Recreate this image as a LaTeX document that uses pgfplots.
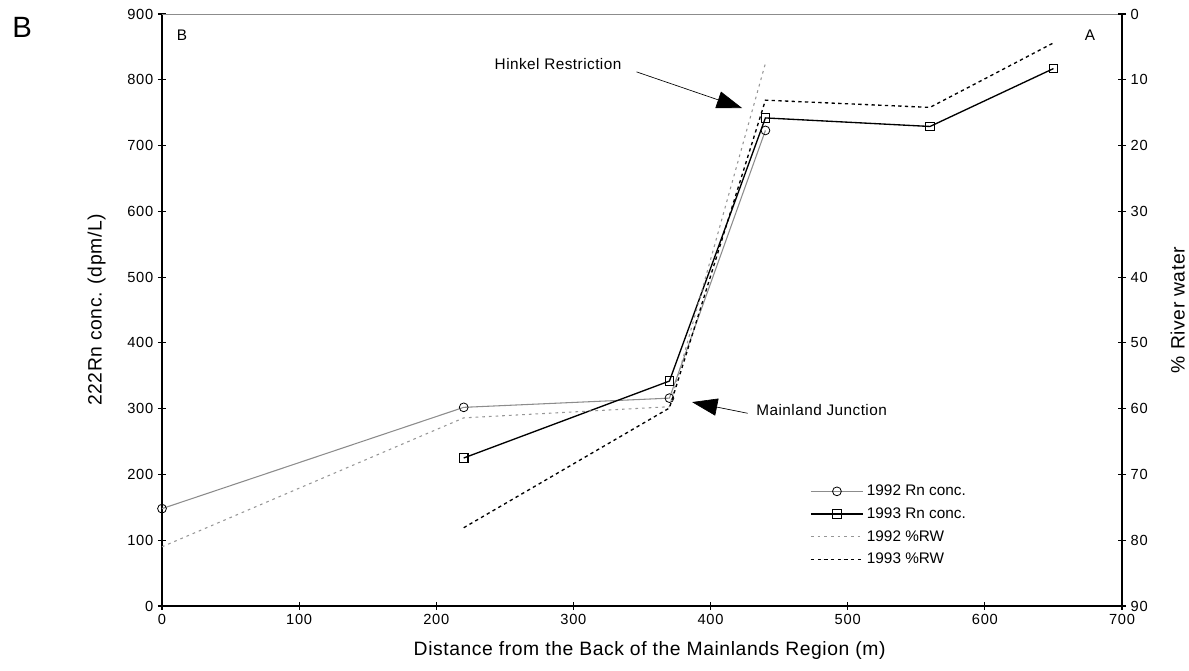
\documentclass[border=0pt]{standalone}
\usepackage{fontspec}
\setmainfont{Liberation Sans}
\usepackage{pgfplots}
\pgfplotsset{compat=1.18}
\usetikzlibrary{arrows.meta}

\definecolor{lightline}{RGB}{140,140,140}
\definecolor{lightdash}{RGB}{150,150,150}

\newcommand{\tickfont}{\fontsize{11pt}{13pt}\selectfont\addfontfeatures{LetterSpace=5}}
\newcommand{\labelfont}{\fontsize{14.5pt}{17pt}\selectfont\addfontfeatures{LetterSpace=3}}
\newcommand{\legendfont}{\fontsize{11.5pt}{13pt}\selectfont}
\newcommand{\annfont}{\fontsize{11.5pt}{13pt}\selectfont\addfontfeatures{LetterSpace=3}}

\pgfplotsset{
  common/.style={
    scale only axis, width=720pt, height=444pt,
    xmin=0, xmax=700,
    axis line style={black, line width=0.8pt, -},
    tick align=center, major tick length=6pt,
    tick style={black, line width=0.8pt},
    /pgf/number format/assume math mode=true,
    tick label style={font=\tickfont},
    label style={font=\labelfont},
    clip=false,
  }
}

\begin{document}
\begin{tikzpicture}
\path[use as bounding box] (-121.5pt,-48.75pt) rectangle (770.25pt,454.5pt);

% Radon concentration (left axis)
\begin{axis}[
  common,
  ymin=0, ymax=900,
  xtick={0,100,...,700}, ytick={0,100,...,900},
  axis x line*=bottom, axis y line*=left,
  xtick pos=left, ytick pos=left,
  xlabel={Distance from the Back of the Mainlands Region (m)},
  ylabel={222Rn conc. (dpm/L)},
  xlabel style={at={(axis description cs:0.508,-0.076)}, anchor=center},
  ylabel style={at={(axis description cs:-0.068,0.5)}, anchor=center},
]
\draw[lightline, line width=0.6pt] (rel axis cs:0,1) -- (rel axis cs:1,1);

\addplot[lightline, line width=0.8pt, mark=o, mark size=3.3pt,
  mark options={black, fill=white, line width=0.6pt}]
  coordinates {(0,148) (220,302) (370,316) (440,723)};

\addplot[black, line width=1pt, mark=square, mark size=3.2pt,
  mark options={black, fill=white, line width=0.8pt}]
  coordinates {(220,225) (370,342) (440,742) (560,729) (650,817)};

\node[font=\fontsize{22pt}{26pt}\selectfont] at (axis cs:-102,880) {B};
\node[font=\annfont] at (axis cs:14.6,868) {B};
\node[font=\annfont] at (axis cs:676.7,868) {A};

\node[font=\annfont] at (axis cs:288.8,824) {Hinkel Restriction};
\draw[line width=0.5pt, -{Triangle[length=19pt,width=13pt]}]
  (axis cs:346,812) -- (axis cs:423,757);

\node[font=\annfont] at (axis cs:481,298) {Mainland Junction};
\draw[line width=0.5pt, -{Triangle[length=19pt,width=13pt]}]
  (axis cs:427,293) -- (axis cs:386.5,310);
\end{axis}

% Percentage of river water (right axis, reversed)
\begin{axis}[
  common,
  ymin=0, ymax=90, y dir=reverse,
  ytick={0,10,...,90},
  axis x line=none, axis y line*=right,
  ytick pos=right, yticklabel pos=right,
  ylabel={\% River water},
  ylabel style={at={(axis description cs:1.058,0.5)}, anchor=center},
  legend style={draw=none, fill=none, at={(0.675,0.206)}, anchor=north west,
    font=\legendfont, inner sep=0pt, row sep=6.5pt,
    nodes={inner sep=0.5pt},
    /tikz/every odd column/.append style={column sep=2pt}},
  legend cell align=left,
  legend image code/.code={
    \draw[mark repeat=2, mark phase=2, #1]
      plot coordinates {(0pt,0pt) (19.5pt,0pt) (39pt,0pt)};
  },
]
\addlegendimage{lightline, line width=0.8pt, mark=o, mark size=3.3pt,
  mark options={black, fill=white, line width=0.6pt}}
\addlegendentry{1992 Rn conc.}
\addlegendimage{black, line width=1pt, mark=square, mark size=3.2pt,
  mark options={black, fill=white, line width=0.8pt}}
\addlegendentry{1993 Rn conc.}

\addplot[lightdash, line width=0.8pt, dash pattern=on 2pt off 3pt]
  coordinates {(0,81) (220,61.4) (370,59.7) (440,7.5)};
\addlegendentry{1992 \%RW}

\addplot[black, line width=1pt, dash pattern=on 2.5pt off 2.5pt]
  coordinates {(220,78.1) (370,59.9) (440,13.1) (560,14.2) (650,4.4)};
\addlegendentry{1993 \%RW}
\end{axis}
\end{tikzpicture}
\end{document}
